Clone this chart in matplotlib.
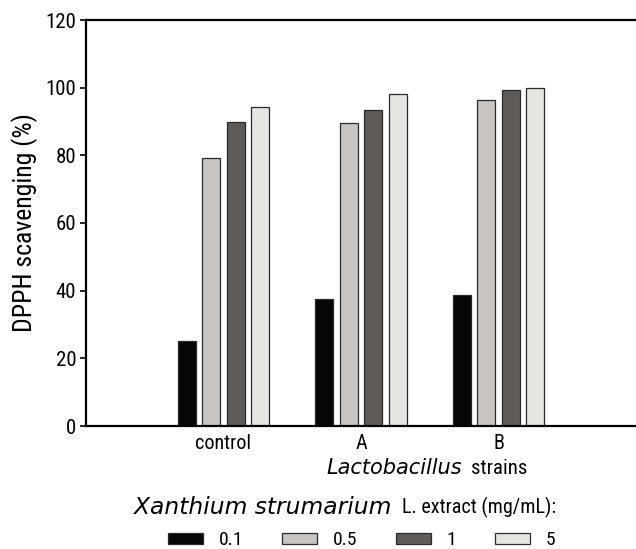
import matplotlib
matplotlib.use("Agg")
import matplotlib.pyplot as plt
import numpy as np
from matplotlib.patches import Patch

# data
strains = ['control', 'A', 'B']
doses = ['0.1', '0.5', '1', '5']
vals_01 = [25.1, 37.5, 38.7]
vals_05 = [79.2, 89.5, 96.5]
vals_1 = [89.8, 93.3, 99.2]
vals_5 = [94.3, 98.2, 100.0]
colors = ['#060606', '#c8c4c1', '#5f5b58', '#e6e5e2']

plt.rcParams['font.family'] = ['Roboto Condensed', 'DejaVu Sans']
ITAL = ['DejaVu Sans']

fig = plt.figure(figsize=(6.36, 5.49), dpi=100)
ax = fig.add_axes([86/636, 1-426/549, 1-86/636, (426-20)/549])

x = np.arange(len(strains))
step = 0.179
w = 0.13
series = [vals_01, vals_05, vals_1, vals_5]
for i, (v, c) in enumerate(zip(series, colors)):
    ax.bar(x + (i - 1.5) * step, v, w, color=c, edgecolor='#2a2a2a', linewidth=0.9)

ax.set_xlim(-1, 3)
ax.set_ylim(0, 120)
ax.set_yticks(range(0, 121, 20))
ax.set_xticks(x)
ax.set_xticklabels(strains, fontsize=14.5)
ax.tick_params(axis='x', length=0, pad=6)
ax.tick_params(axis='y', labelsize=15, length=4, width=1.2, direction='out', pad=3)
ax.spines['right'].set_visible(False)
for s in ['left', 'top', 'bottom']:
    ax.spines[s].set_linewidth(1.6)
ax.set_ylabel('DPPH scavenging (%)', fontsize=18.5, labelpad=5)

fig.text(462/636, 1-468/549, 'Lactobacillus', family=ITAL, style='italic', fontsize=15,
         ha='right', va='center')
fig.text(471/636, 1-468/549, 'strains', fontsize=15, ha='left', va='center')
fig.text(391/636, 1-507/549, 'Xanthium strumarium', family=ITAL, style='italic', fontsize=16.8,
         ha='right', va='center')
fig.text(402/636, 1-507/549, 'L. extract (mg/mL):', fontsize=14.5, ha='left', va='center')

handles = [Patch(facecolor=c, edgecolor='#2a2a2a', linewidth=0.9) for c in colors]
fig.legend(handles, doses, loc='center', bbox_to_anchor=(362/636, 1-540/549), ncol=4,
           frameon=False, fontsize=14, handlelength=1.8, handleheight=0.5,
           handletextpad=0.8, columnspacing=2.0)

fig.savefig('out.png', dpi=100)
